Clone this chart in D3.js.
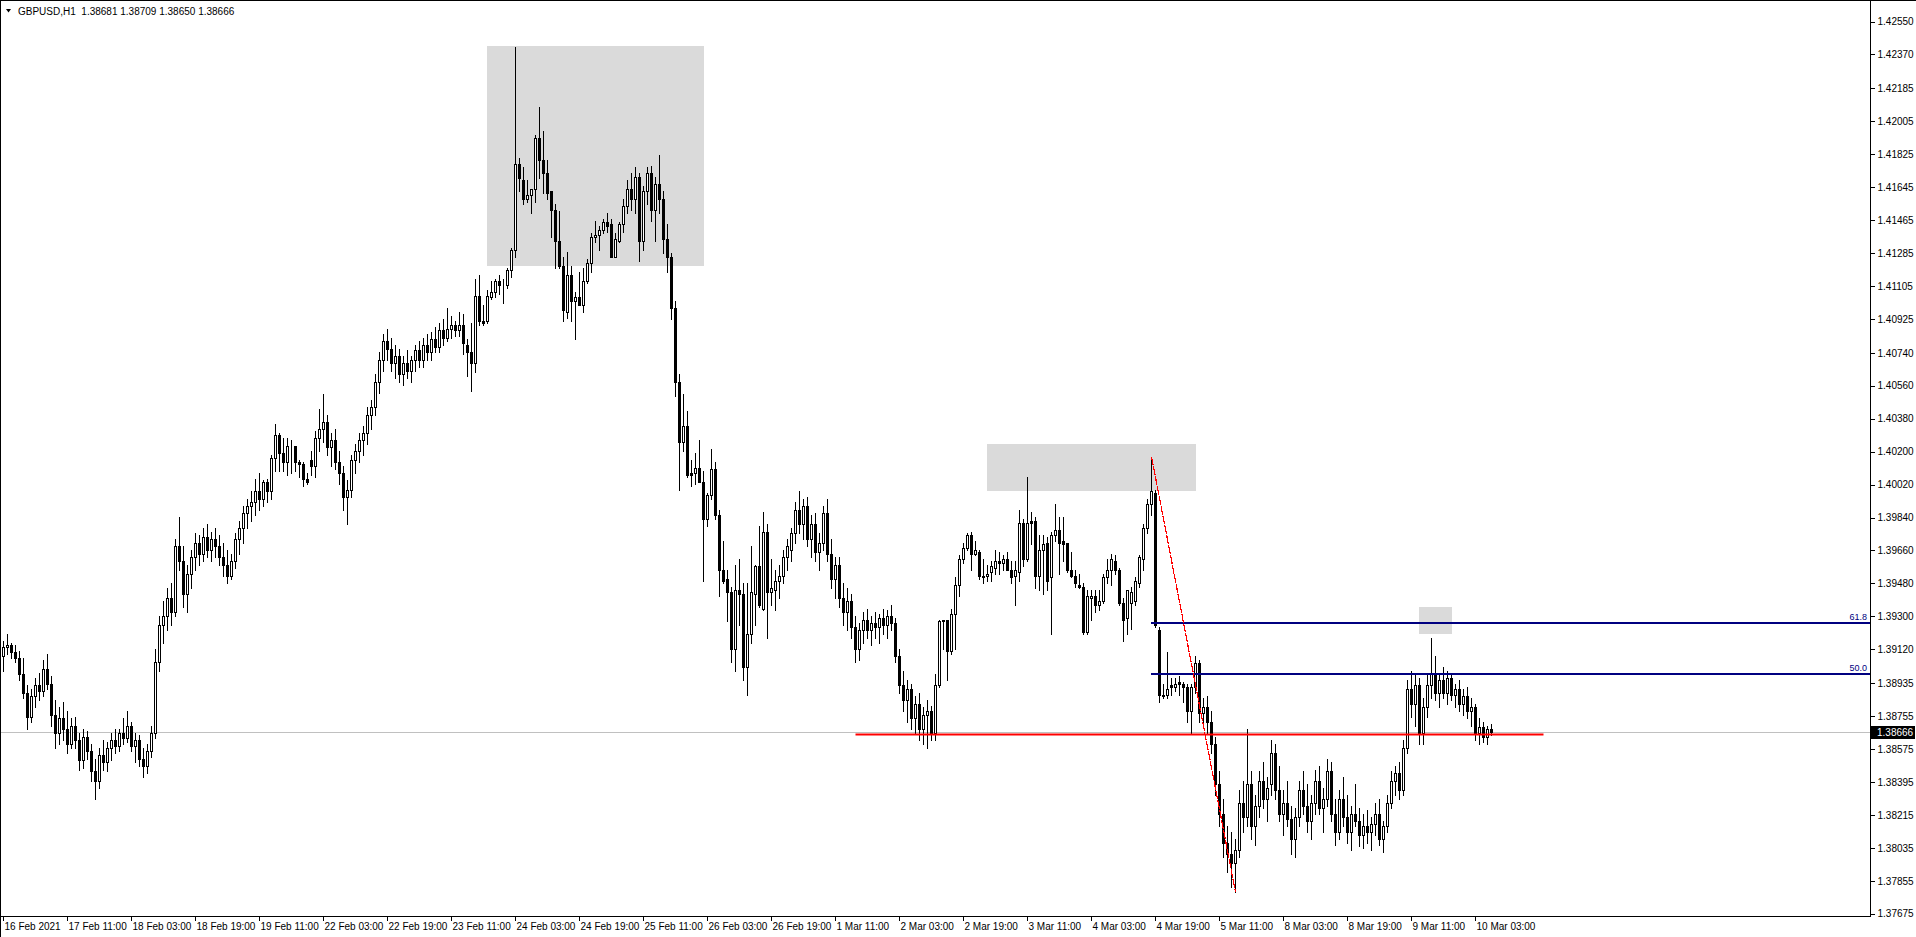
<!DOCTYPE html>
<html><head><meta charset="utf-8">
<script src="https://cdn.jsdelivr.net/npm/d3@7"></script>
<style>html,body{margin:0;padding:0;background:#fff;overflow:hidden}</style>
</head><body>
<svg id="chart" width="1916" height="937"></svg>
<script>
// ---------------- DATA (GBPUSD H1, bar 0 = 16 Feb 2021 19:00) ----------------
const opens = [
1.3908,1.3913,1.3914,1.3910,1.3907,1.3898,1.3888,1.3875,1.3886,1.3892,
1.3889,1.3901,1.3893,1.3876,1.3866,1.3874,1.3868,1.3860,1.3870,1.3862,
1.3851,1.3864,1.3856,1.3845,1.3840,1.3854,1.3850,1.3858,1.3862,1.3859,
1.3866,1.3863,1.3870,1.3859,1.3862,1.3852,1.3848,1.3856,1.3866,1.3905,
1.3925,1.3930,1.3940,1.3932,1.3968,1.3960,1.3942,1.3953,1.3962,1.3970,
1.3964,1.3973,1.3966,1.3972,1.3968,1.3962,1.3958,1.3952,1.3960,1.3972,
1.3978,1.3986,1.3990,1.3992,1.3998,1.3994,1.4003,1.3998,1.4016,1.4029,
1.4019,1.4014,1.4023,1.4023,1.4014,1.4013,1.4005,1.4015,1.4012,1.4027,
1.4032,1.4036,1.4022,1.4026,1.4014,1.4008,1.3995,1.3999,1.4015,1.4020,
1.4026,1.4030,1.4040,1.4044,1.4058,1.4070,1.4080,1.4076,1.4068,1.4072,
1.4062,1.4068,1.4064,1.4070,1.4075,1.4070,1.4078,1.4074,1.4081,1.4077,
1.4086,1.4082,1.4087,1.4089,1.4086,1.4089,1.4078,1.4074,1.4068,1.4105,
1.4091,1.4091,1.4104,1.4107,1.4113,1.4111,1.4111,1.4119,1.4130,1.4177,
1.4168,1.4158,1.4160,1.4163,1.4191,1.4179,1.4172,1.4162,1.4152,1.4135,
1.4121,1.4096,1.4116,1.4102,1.4104,1.4100,1.4113,1.4123,1.4137,1.4138,
1.4141,1.4145,1.4144,1.4126,1.4135,1.4144,1.4154,1.4163,1.4158,1.4170,
1.4135,1.4162,1.4172,1.4152,1.4166,1.4158,1.4136,1.4126,1.4098,1.4058,
1.4025,1.4034,1.4008,1.4008,1.4011,1.4003,1.3983,1.3996,1.4010,1.3985,
1.3955,1.3950,1.3943,1.3912,1.3944,1.3942,1.3902,1.3920,1.3942,1.3957,
1.3934,1.3976,1.3943,1.3944,1.3949,1.3952,1.3962,1.3966,1.3975,1.3988,
1.3980,1.3990,1.3972,1.3980,1.3965,1.3970,1.3986,1.3964,1.3950,1.3958,
1.3940,1.3932,1.3938,1.3924,1.3912,1.3922,1.3928,1.3922,1.3926,1.3924,
1.3929,1.3925,1.3930,1.3926,1.3908,1.3892,1.3884,1.3890,1.3874,1.3882,
1.3868,1.3876,1.3878,1.3866,1.3892,1.3927,1.3928,1.3911,1.3931,1.3947,
1.3961,1.3967,1.3974,1.3964,1.3965,1.3952,1.3952,1.3954,1.3956,1.3960,
1.3959,1.3961,1.3955,1.3952,1.3954,1.3981,1.3961,1.3982,1.3982,1.3952,
1.3966,1.3970,1.3951,1.3974,1.3977,1.3971,1.3970,1.3955,1.3952,1.3947,
1.3946,1.3921,1.3940,1.3941,1.3936,1.3938,1.3951,1.3955,1.3960,1.3955,
1.3937,1.3929,1.3937,1.3938,1.3948,1.3961,1.3978,1.3991,1.3997,1.3922,
1.3886,1.3887,1.3892,1.3891,1.3894,1.3893,1.3891,1.3878,1.3891,1.3904,
1.3877,1.3880,1.3872,1.3860,1.3838,1.3822,1.3806,1.3800,1.3795,1.3802,
1.3828,1.3820,1.3838,1.3815,1.3826,1.3840,1.3830,1.3838,1.3855,1.3835,
1.3822,1.3828,1.3819,1.3808,1.3820,1.3835,1.3826,1.3818,1.3828,1.3840,
1.3825,1.3830,1.3845,1.3822,1.3812,1.3830,1.3820,1.3812,1.3822,1.3818,
1.3810,1.3815,1.3812,1.3816,1.3822,1.3808,1.3815,1.3828,1.3840,1.3844,
1.3835,1.3858,1.3890,1.3882,1.3892,1.3866,1.3880,1.3892,1.3899,1.3888,
1.3895,1.3888,1.3896,1.3887,1.3890,1.3882,1.3886,1.3878,1.3880,1.3866,
1.3869,1.3864,1.38681];
const highs = [
1.3916,1.3920,1.3915,1.3914,1.3911,1.3907,1.3892,1.3890,1.3896,1.3899,
1.3906,1.3909,1.3897,1.3884,1.3880,1.3883,1.3878,1.3874,1.3875,1.3866,
1.3868,1.3867,1.3860,1.3852,1.3858,1.3862,1.3861,1.3866,1.3868,1.3868,
1.3874,1.3878,1.3872,1.3866,1.3865,1.3858,1.3860,1.3870,1.3912,1.3930,
1.3938,1.3945,1.3948,1.3972,1.3984,1.3968,1.3958,1.3966,1.3975,1.3974,
1.3978,1.3980,1.3976,1.3978,1.3974,1.3970,1.3966,1.3964,1.3975,1.3982,
1.3990,1.3994,1.3998,1.4005,1.4008,1.4004,1.4005,1.4018,1.4035,1.4030,
1.4027,1.4027,1.4026,1.4023,1.4015,1.4014,1.4008,1.4020,1.4031,1.4043,
1.4051,1.4040,1.4030,1.4032,1.4020,1.4012,1.4004,1.4018,1.4024,1.4030,
1.4034,1.4044,1.4048,1.4062,1.4074,1.4084,1.4087,1.4082,1.4078,1.4076,
1.4072,1.4075,1.4072,1.4078,1.4080,1.4082,1.4084,1.4085,1.4088,1.4090,
1.4092,1.4098,1.4094,1.4091,1.4096,1.4095,1.4081,1.4090,1.4114,1.4116,
1.4100,1.4108,1.4113,1.4114,1.4116,1.4114,1.4120,1.4131,1.4241,1.4180,
1.4175,1.4168,1.4163,1.4193,1.4208,1.4195,1.4179,1.4162,1.4155,1.4151,
1.4126,1.4129,1.4121,1.4107,1.4118,1.4120,1.4125,1.4139,1.4146,1.4143,
1.4147,1.4150,1.4147,1.4139,1.4145,1.4158,1.4168,1.4172,1.4175,1.4172,
1.4165,1.4175,1.4176,1.4170,1.4182,1.4162,1.4144,1.4128,1.4102,1.4062,
1.4051,1.4042,1.4015,1.4019,1.4026,1.4009,1.3997,1.4021,1.4014,1.3988,
1.3971,1.3955,1.3946,1.3958,1.3961,1.3948,1.3948,1.3968,1.3958,1.3979,
1.3987,1.3980,1.3961,1.3955,1.3958,1.3966,1.3972,1.3978,1.3992,1.3998,
1.3994,1.3995,1.3985,1.3986,1.3975,1.3990,1.3994,1.3972,1.3962,1.3962,
1.3948,1.3945,1.3942,1.3930,1.3926,1.3932,1.3934,1.3930,1.3932,1.3931,
1.3934,1.3933,1.3936,1.3929,1.3912,1.3900,1.3895,1.3893,1.3886,1.3888,
1.3880,1.3884,1.3881,1.3898,1.3928,1.3928,1.3928,1.3934,1.3951,1.3963,
1.3970,1.3975,1.3976,1.3971,1.3966,1.3961,1.3958,1.3960,1.3966,1.3965,
1.3963,1.3965,1.3960,1.3960,1.3988,1.3983,1.4006,1.3987,1.3984,1.3974,
1.3974,1.3973,1.3976,1.3991,1.3984,1.3984,1.3970,1.3965,1.3955,1.3953,
1.3948,1.3944,1.3944,1.3944,1.3944,1.3953,1.3961,1.3964,1.3963,1.3956,
1.3940,1.3944,1.3946,1.3951,1.3963,1.3980,1.3994,1.4017,1.3999,1.3924,
1.3893,1.3910,1.3896,1.3896,1.3897,1.3894,1.3893,1.3893,1.3908,1.3906,
1.3885,1.3886,1.3878,1.3864,1.3845,1.3830,1.3815,1.3812,1.3808,1.3835,
1.3840,1.3868,1.3845,1.3832,1.3845,1.3850,1.3842,1.3862,1.3860,1.3848,
1.3835,1.3840,1.3826,1.3825,1.3840,1.3845,1.3838,1.3832,1.3846,1.3848,
1.3836,1.3852,1.3850,1.3830,1.3835,1.3842,1.3832,1.3826,1.3838,1.3825,
1.3822,1.3824,1.3820,1.3828,1.3830,1.3818,1.3832,1.3845,1.3848,1.3850,
1.3862,1.3895,1.3900,1.3898,1.3896,1.3885,1.3898,1.3918,1.3908,1.3898,
1.3902,1.3900,1.3899,1.3893,1.3895,1.3890,1.3891,1.3885,1.3882,1.3874,
1.3872,1.3870,1.38709];
const lows = [
1.3900,1.3909,1.3907,1.3905,1.3895,1.3885,1.3868,1.3872,1.3880,1.3884,
1.3886,1.3890,1.3870,1.3858,1.3860,1.3862,1.3855,1.3858,1.3858,1.3846,
1.3847,1.3852,1.3840,1.3830,1.3836,1.3846,1.3845,1.3851,1.3855,1.3856,
1.3860,1.3861,1.3856,1.3850,1.3848,1.3842,1.3844,1.3853,1.3863,1.3900,
1.3915,1.3922,1.3925,1.3930,1.3955,1.3935,1.3932,1.3945,1.3955,1.3958,
1.3960,1.3962,1.3960,1.3962,1.3958,1.3952,1.3948,1.3950,1.3956,1.3964,
1.3970,1.3978,1.3982,1.3985,1.3988,1.3990,1.3992,1.3994,1.4009,1.4009,
1.4009,1.4007,1.4008,1.4009,1.4006,1.4001,1.4002,1.4007,1.4006,1.4020,
1.4025,1.4018,1.4012,1.4010,1.4002,1.3988,1.3980,1.3995,1.4008,1.4014,
1.4018,1.4024,1.4032,1.4040,1.4052,1.4064,1.4070,1.4064,1.4060,1.4058,
1.4056,1.4060,1.4058,1.4064,1.4066,1.4066,1.4070,1.4070,1.4074,1.4074,
1.4078,1.4080,1.4082,1.4083,1.4083,1.4073,1.4061,1.4053,1.4063,1.4089,
1.4089,1.4090,1.4103,1.4104,1.4106,1.4101,1.4109,1.4115,1.4126,1.4162,
1.4155,1.4156,1.4150,1.4156,1.4169,1.4161,1.4158,1.4137,1.4120,1.4120,
1.4091,1.4093,1.4091,1.4081,1.4100,1.4096,1.4112,1.4118,1.4134,1.4130,
1.4139,1.4140,1.4126,1.4126,1.4134,1.4140,1.4150,1.4152,1.4150,1.4124,
1.4130,1.4155,1.4146,1.4135,1.4150,1.4128,1.4118,1.4092,1.4050,1.3999,
1.4020,1.4006,1.4001,1.4002,1.4003,1.3949,1.3979,1.3994,1.3983,1.3941,
1.3948,1.3927,1.3905,1.3900,1.3925,1.3895,1.3887,1.3915,1.3925,1.3935,
1.3933,1.3918,1.3936,1.3933,1.3940,1.3948,1.3955,1.3960,1.3970,1.3975,
1.3972,1.3968,1.3962,1.3960,1.3955,1.3966,1.3960,1.3945,1.3940,1.3935,
1.3925,1.3922,1.3918,1.3905,1.3906,1.3915,1.3918,1.3914,1.3918,1.3915,
1.3920,1.3918,1.3922,1.3905,1.3888,1.3878,1.3872,1.3868,1.3866,1.3862,
1.3860,1.3858,1.3862,1.3862,1.3891,1.3912,1.3895,1.3909,1.3912,1.3941,
1.3959,1.3966,1.3955,1.3963,1.3950,1.3948,1.3949,1.3949,1.3953,1.3953,
1.3955,1.3955,1.3948,1.3936,1.3949,1.3957,1.3960,1.3969,1.3945,1.3944,
1.3942,1.3944,1.3920,1.3971,1.3953,1.3960,1.3954,1.3951,1.3946,1.3945,
1.3920,1.3920,1.3928,1.3932,1.3933,1.3937,1.3948,1.3947,1.3953,1.3936,
1.3916,1.3920,1.3923,1.3936,1.3946,1.3955,1.3975,1.3985,1.3924,1.3883,
1.3885,1.3885,1.3887,1.3889,1.3887,1.3883,1.3872,1.3866,1.3888,1.3872,
1.3870,1.3866,1.3855,1.3832,1.3815,1.3798,1.3790,1.3782,1.3779,1.3798,
1.3812,1.3815,1.3808,1.3805,1.3820,1.3825,1.3818,1.3832,1.3830,1.3818,
1.3810,1.3815,1.3800,1.3798,1.3815,1.3822,1.3812,1.3808,1.3822,1.3822,
1.3812,1.3826,1.3818,1.3805,1.3808,1.3815,1.3806,1.3802,1.3815,1.3804,
1.3803,1.3806,1.3802,1.3810,1.3805,1.3801,1.3812,1.3825,1.3832,1.3830,
1.3832,1.3855,1.3875,1.3870,1.3860,1.3860,1.3875,1.3885,1.3884,1.3880,
1.3885,1.3882,1.3884,1.3880,1.3878,1.3876,1.3874,1.3870,1.3862,1.3860,
1.3861,1.3860,1.38650];
const closes = [
1.3913,1.3914,1.3910,1.3907,1.3898,1.3888,1.3875,1.3886,1.3892,1.3889,
1.3901,1.3893,1.3876,1.3866,1.3874,1.3868,1.3860,1.3870,1.3862,1.3851,
1.3864,1.3856,1.3845,1.3840,1.3854,1.3850,1.3858,1.3862,1.3859,1.3866,
1.3863,1.3870,1.3859,1.3862,1.3852,1.3848,1.3856,1.3866,1.3905,1.3925,
1.3930,1.3940,1.3932,1.3968,1.3960,1.3942,1.3953,1.3962,1.3970,1.3964,
1.3973,1.3966,1.3972,1.3968,1.3962,1.3958,1.3952,1.3960,1.3972,1.3978,
1.3986,1.3990,1.3992,1.3998,1.3994,1.4003,1.3998,1.4016,1.4029,1.4019,
1.4014,1.4023,1.4023,1.4014,1.4013,1.4005,1.4003,1.4012,1.4027,1.4032,
1.4036,1.4022,1.4026,1.4014,1.4008,1.3995,1.3999,1.4015,1.4020,1.4026,
1.4030,1.4040,1.4044,1.4058,1.4070,1.4080,1.4076,1.4068,1.4072,1.4062,
1.4068,1.4064,1.4070,1.4075,1.4070,1.4078,1.4074,1.4081,1.4077,1.4086,
1.4082,1.4087,1.4089,1.4086,1.4089,1.4079,1.4074,1.4068,1.4105,1.4091,
1.4090,1.4105,1.4107,1.4113,1.4111,1.4111,1.4119,1.4130,1.4177,1.4169,
1.4158,1.4160,1.4163,1.4191,1.4179,1.4172,1.4161,1.4152,1.4135,1.4121,
1.4097,1.4116,1.4102,1.4104,1.4100,1.4113,1.4123,1.4137,1.4138,1.4141,
1.4145,1.4143,1.4126,1.4136,1.4144,1.4154,1.4163,1.4158,1.4170,1.4135,
1.4162,1.4172,1.4152,1.4166,1.4158,1.4136,1.4126,1.4098,1.4058,1.4025,
1.4034,1.4007,1.4007,1.4011,1.4003,1.3983,1.3996,1.4010,1.3985,1.3955,
1.3949,1.3943,1.3912,1.3944,1.3942,1.3902,1.3920,1.3943,1.3957,1.3936,
1.3976,1.3943,1.3945,1.3949,1.3952,1.3962,1.3968,1.3975,1.3988,1.3980,
1.3990,1.3972,1.3980,1.3965,1.3970,1.3986,1.3964,1.3950,1.3958,1.3940,
1.3932,1.3938,1.3924,1.3912,1.3922,1.3928,1.3922,1.3926,1.3924,1.3929,
1.3925,1.3930,1.3926,1.3908,1.3892,1.3884,1.3890,1.3874,1.3882,1.3868,
1.3876,1.3878,1.3866,1.3892,1.3927,1.3928,1.3911,1.3931,1.3947,1.3961,
1.3967,1.3974,1.3964,1.3966,1.3952,1.3951,1.3953,1.3957,1.3960,1.3959,
1.3961,1.3955,1.3951,1.3955,1.3981,1.3961,1.3981,1.3981,1.3952,1.3966,
1.3969,1.3949,1.3974,1.3977,1.3970,1.3969,1.3955,1.3952,1.3948,1.3946,
1.3921,1.3941,1.3941,1.3936,1.3938,1.3951,1.3955,1.3961,1.3955,1.3937,
1.3928,1.3944,1.3943,1.3949,1.3962,1.3978,1.3991,1.3998,1.3925,1.3887,
1.3887,1.3890,1.3891,1.3893,1.3893,1.3891,1.3878,1.3891,1.3904,1.3877,
1.3880,1.3872,1.3860,1.3838,1.3822,1.3806,1.3800,1.3795,1.3802,1.3828,
1.3820,1.3838,1.3815,1.3826,1.3840,1.3830,1.3836,1.3855,1.3835,1.3822,
1.3828,1.3819,1.3808,1.3820,1.3835,1.3826,1.3818,1.3828,1.3840,1.3825,
1.3830,1.3845,1.3822,1.3812,1.3830,1.3820,1.3812,1.3822,1.3818,1.3810,
1.3815,1.3812,1.3816,1.3822,1.3808,1.3815,1.3828,1.3840,1.3844,1.3835,
1.3858,1.3890,1.3882,1.3892,1.3866,1.3880,1.3892,1.3899,1.3888,1.3895,
1.3888,1.3896,1.3887,1.3890,1.3882,1.3886,1.3878,1.3880,1.3866,1.3869,
1.3864,1.3868,1.38666];

const timeLabels = ["16 Feb 2021","17 Feb 11:00","18 Feb 03:00","18 Feb 19:00","19 Feb 11:00",
  "22 Feb 03:00","22 Feb 19:00","23 Feb 11:00","24 Feb 03:00","24 Feb 19:00","25 Feb 11:00",
  "26 Feb 03:00","26 Feb 19:00","1 Mar 11:00","2 Mar 03:00","2 Mar 19:00","3 Mar 11:00",
  "4 Mar 03:00","4 Mar 19:00","5 Mar 11:00","8 Mar 03:00","8 Mar 19:00","9 Mar 11:00","10 Mar 03:00"];
const timeLabelBars = [0,16,32,48,64,80,96,112,128,144,160,176,192,208,224,240,256,272,288,304,320,336,352,368];
const priceTicks = [1.42550,1.42370,1.42185,1.42005,1.41825,1.41645,1.41465,1.41285,1.41105,1.40925,
  1.40740,1.40560,1.40380,1.40200,1.40020,1.39840,1.39660,1.39480,1.39300,1.39120,1.38935,
  1.38755,1.38575,1.38395,1.38215,1.38035,1.37855,1.37675];
const bidPrice = 1.38666;
const headerText = "GBPUSD,H1  1.38681 1.38709 1.38650 1.38666";

// drawn objects (anchored on bar index / price)
const rectBars0 = [121, 246, 354];
const rectBars1 = [175, 298, 362];
const rectTop   = [1.42413, 1.40239, 1.39349];
const rectBot   = [1.41217, 1.39988, 1.39207];
const fiboBars = [287, 308];           // high bar, low bar
const fiboLevels = [0.618, 0.5];
const fiboLabels = ["61.8", "50.0"];
const hLinePrice = 1.38652, hLineBars = [213, 385];

// ---------------- RENDER ----------------
const W = 1916, H = 937, plotR = 1870, plotB = 916;
const svg = d3.select("#chart");
const n = closes.length;
const x = d3.scaleLinear().domain([0, n - 1]).range([3.5, 3.5 + 4 * (n - 1)]);
const y = d3.scaleLinear().domain([1.3766, 1.42665]).range([plotB, 0]);
const ry = v => Math.round(y(v));
const FONT = "'Liberation Sans', Arial, sans-serif";

svg.append("rect").attr("width", W).attr("height", H).attr("fill", "#fff");

const plot = svg.append("g");
plot.append("defs").append("clipPath").attr("id", "clip")
  .append("rect").attr("x", 0).attr("y", 0).attr("width", plotR).attr("height", plotB);
const clipG = plot.append("g").attr("clip-path", "url(#clip)");

// background rectangles
clipG.selectAll("rect.box").data(rectBars0).join("rect").attr("class", "box")
  .attr("x", (d, i) => Math.round(x(d) - 0.5))
  .attr("width", (d, i) => Math.round(x(rectBars1[i]) - x(d)) + 1)
  .attr("y", (d, i) => ry(rectTop[i]))
  .attr("height", (d, i) => ry(rectBot[i]) - ry(rectTop[i]) + 1)
  .attr("fill", "#dadada");

// bid line
clipG.append("line").attr("x1", 0).attr("x2", plotR)
  .attr("y1", ry(bidPrice) + 0.5).attr("y2", ry(bidPrice) + 0.5)
  .attr("stroke", "#c0c0c0").attr("stroke-width", 1);

// candles
const idx = d3.range(n);
const cg = clipG.append("g").attr("shape-rendering", "crispEdges");
cg.selectAll("rect.wick").data(idx).join("rect").attr("class", "wick")
  .attr("x", i => x(i) - 0.5).attr("width", 1)
  .attr("y", i => ry(highs[i]))
  .attr("height", i => ry(lows[i]) - ry(highs[i]) + 1)
  .attr("fill", "#000");
cg.selectAll("rect.body").data(idx).join("rect").attr("class", "body")
  .attr("x", i => x(i) - 1).attr("width", 2)
  .attr("y", i => ry(Math.max(opens[i], closes[i])) + 0.5)
  .attr("height", i => ry(Math.min(opens[i], closes[i])) - ry(Math.max(opens[i], closes[i])))
  .attr("fill", i => closes[i] >= opens[i] ? "#fff" : "#000")
  .attr("stroke", "#000").attr("stroke-width", 1);

// horizontal red line
clipG.append("line")
  .attr("x1", x(hLineBars[0])).attr("x2", x(hLineBars[1]))
  .attr("y1", y(hLinePrice)).attr("y2", y(hLinePrice))
  .attr("stroke", "#ff0000").attr("stroke-width", 2);

// fibo retracement
const fHi = highs[fiboBars[0]], fLo = lows[fiboBars[1]];
fiboLevels.forEach((lv, k) => {
  const py = Math.round(y(fLo + lv * (fHi - fLo)));
  clipG.append("line").attr("x1", Math.round(x(fiboBars[0])) - 1).attr("x2", plotR)
    .attr("y1", py).attr("y2", py)
    .attr("stroke", "#000080").attr("stroke-width", 2);
  clipG.append("text").attr("x", plotR - 3).attr("y", py - 3)
    .attr("text-anchor", "end").attr("font-family", FONT).attr("font-size", 9)
    .attr("fill", "#000080").text(fiboLabels[k]);
});
clipG.append("line")
  .attr("x1", x(fiboBars[0])).attr("y1", y(fHi))
  .attr("x2", x(fiboBars[1])).attr("y2", y(fLo))
  .attr("stroke", "#ff0000").attr("stroke-width", 1.2).attr("stroke-dasharray", "9,1")
  .attr("shape-rendering", "crispEdges");

// frame and axes
const fr = svg.append("g").attr("shape-rendering", "crispEdges").attr("stroke", "#000");
fr.append("line").attr("x1", 0).attr("x2", W).attr("y1", 0.5).attr("y2", 0.5);
fr.append("line").attr("x1", 0.5).attr("x2", 0.5).attr("y1", 0).attr("y2", H);
fr.append("line").attr("x1", plotR + 0.5).attr("x2", plotR + 0.5).attr("y1", 0).attr("y2", plotB + 1);
fr.append("line").attr("x1", 0).attr("x2", plotR + 1).attr("y1", plotB + 0.5).attr("y2", plotB + 0.5);

// price axis
const yAxis = d3.axisRight(y).tickValues(priceTicks).tickFormat(d3.format(".5f")).tickSize(4).tickPadding(3);
const ya = svg.append("g").attr("transform", `translate(${plotR + 0.5},0.5)`).call(yAxis);
ya.select(".domain").remove();
ya.selectAll("line").attr("stroke", "#000").attr("shape-rendering", "crispEdges");
ya.selectAll("text").attr("font-family", FONT).attr("font-size", 10).attr("fill", "#000");

// time axis
const xa = svg.append("g").attr("transform", `translate(0,${plotB + 0.5})`);
xa.selectAll("line").data(timeLabelBars).join("line")
  .attr("x1", d => x(d)).attr("x2", d => x(d)).attr("y1", 0).attr("y2", 4)
  .attr("stroke", "#000").attr("shape-rendering", "crispEdges");
xa.selectAll("text").data(timeLabelBars).join("text")
  .attr("x", d => x(d) + 1).attr("y", 13)
  .attr("font-family", FONT).attr("font-size", 10).attr("fill", "#000")
  .text((d, i) => timeLabels[i]);

// bid label
const by = ry(bidPrice);
svg.append("rect").attr("x", plotR + 1).attr("y", by - 6).attr("width", 44).attr("height", 13).attr("fill", "#000");
svg.append("text").attr("x", plotR + 7).attr("y", by + 4)
  .attr("font-family", FONT).attr("font-size", 10).attr("fill", "#fff").text(d3.format(".5f")(bidPrice));

// header
svg.append("path").attr("d", "M6,9 L11,9 L8.5,12.5 Z").attr("fill", "#000");
svg.append("text").attr("x", 18).attr("y", 15).attr("font-family", FONT).attr("font-size", 10)
  .attr("fill", "#000").attr("xml:space", "preserve").style("white-space", "pre").text(headerText);
</script>
</body></html>
